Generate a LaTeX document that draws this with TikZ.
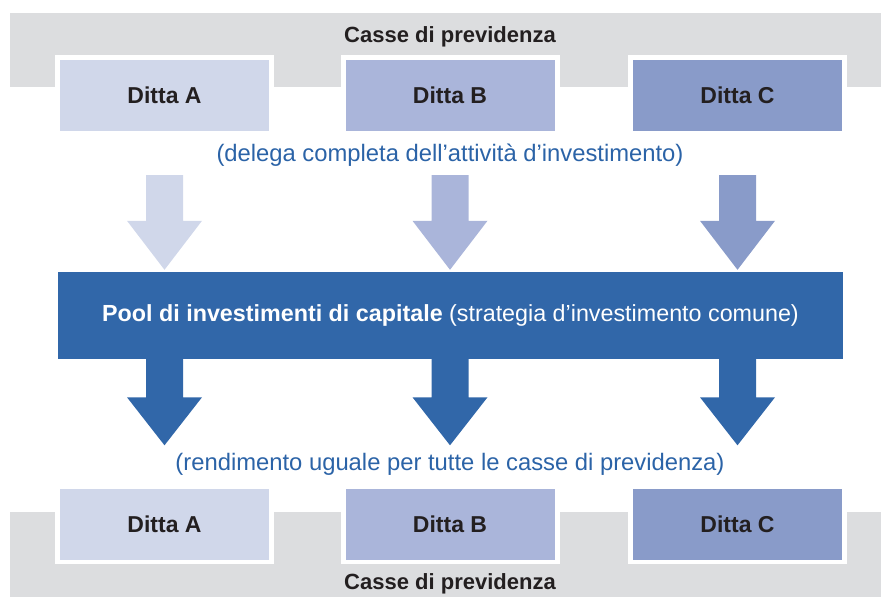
\documentclass[tikz,border=0pt]{standalone}
\usepackage{fontspec}
\setmainfont{Liberation Sans}
\usetikzlibrary{calc}

\definecolor{bandgray}{HTML}{DCDDDF}
\definecolor{dittaA}{HTML}{D0D7EA}
\definecolor{dittaB}{HTML}{AAB5DA}
\definecolor{dittaC}{HTML}{899BC9}
\definecolor{poolblue}{HTML}{3167A9}
\definecolor{noteblue}{HTML}{2B63A7}
\definecolor{darktext}{HTML}{231F20}

\begin{document}
\begin{tikzpicture}[x=1pt,y=-1pt,
    ditta/.style={rectangle,minimum width=209pt,minimum height=71pt,inner sep=0pt,
      font=\fontsize{23}{26}\selectfont\bfseries,text=darktext},
    frame/.style={fill=white},
    cassa/.style={font=\fontsize{22}{26}\selectfont\bfseries,text=darktext},
    note/.style={font=\fontsize{23.8}{28}\selectfont,text=noteblue},
    pool/.style={rectangle,fill=poolblue,minimum width=785pt,minimum height=87pt,
      inner sep=0pt,text=white,font=\fontsize{23.3}{26}\selectfont}]

  \useasboundingbox (0,0) rectangle (881,597);

  \def\hs{18.5}  % half shaft
  \def\hh{37.5}  % half head
  \def\hl{49}    % head length

  % bands
  \fill[bandgray] (10,13) rectangle (881,87);
  \fill[bandgray] (10,512) rectangle (881,597);
  \foreach \x in {164.5,450,737.5} {
    \fill[frame] (\x-109.5,55) rectangle (\x+109.5,136);
    \fill[frame] (\x-109.5,484) rectangle (\x+109.5,564);
  }

  \node[cassa] (casseT) at (450,36.5) {Casse di previdenza};
  \node[cassa] (casseB) at (450,584) {Casse di previdenza};

  \foreach \n/\x in {A/164.5,B/450,C/737.5} {
    \node[ditta,fill=ditta\n] (top\n) at (\x,95.5) {Ditta \n};
    \node[ditta,fill=ditta\n] (bot\n) at (\x,524) {Ditta \n};
  }

  \node[note] (delega) at (450,155) {(delega completa dell’attività d’investimento)};
  \node[pool] (pool) at (450.5,315.5)
    {\textbf{Pool di investimenti di capitale} (strategia d’investimento comune)};
  \node[note] (rend) at (450,464) {(rendimento uguale per tutte le casse di previdenza)};

  % block arrows
  \foreach \n in {A,B,C} {
    \coordinate (in\n) at ($(top\n.south)+(0,44)$);
    \coordinate (out\n) at ($(bot\n.north)+(0,-43)$);
    \fill[ditta\n] ($(in\n)+(-\hs,0)$) -- ($(in\n)+(\hs,0)$)
      -- ($(top\n.south |- pool.north)+(\hs,-\hl-2)$) -- ($(top\n.south |- pool.north)+(\hh,-\hl-2)$)
      -- ($(top\n.south |- pool.north)+(0,-2)$)
      -- ($(top\n.south |- pool.north)+(-\hh,-\hl-2)$) -- ($(top\n.south |- pool.north)+(-\hs,-\hl-2)$) -- cycle;
    \fill[poolblue] ($(top\n.south |- pool.south)+(-\hs,-1)$) -- ($(top\n.south |- pool.south)+(\hs,-1)$)
      -- ($(out\n)+(\hs,-\hl+1)$) -- ($(out\n)+(\hh,-\hl+1)$) -- (out\n)
      -- ($(out\n)+(-\hh,-\hl+1)$) -- ($(out\n)+(-\hs,-\hl+1)$) -- cycle;
  }

\end{tikzpicture}
\end{document}
